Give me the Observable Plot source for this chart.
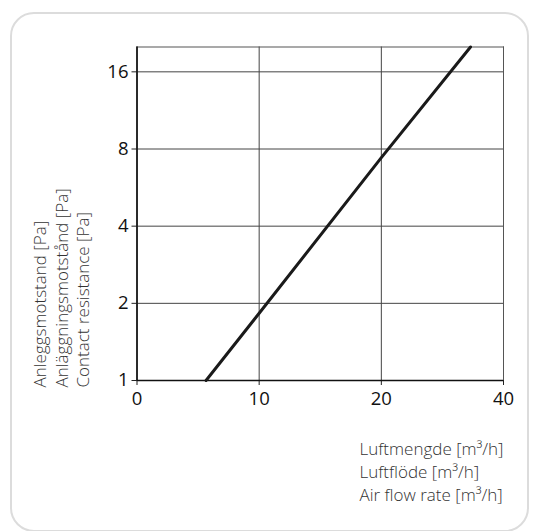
<!DOCTYPE html>
<html>
<head>
<meta charset="utf-8">
<script src="https://cdn.jsdelivr.net/npm/d3@7"></script>
<script src="https://cdn.jsdelivr.net/npm/@observablehq/plot@0.6"></script>
<style>
  html, body { margin: 0; padding: 0; background: #fff; }
  #wrap { position: relative; width: 534px; height: 531px; overflow: hidden; }
  #card { position: absolute; left: 10px; top: 12px; width: 519px; height: 520px;
          border: 2px solid #dcdcdc; border-radius: 24px; box-sizing: border-box; }
  #chart { position: absolute; left: 0; top: 0; }
</style>
</head>
<body>
<div id="wrap"><div id="card"></div><div id="chart"></div></div>
<script>
// Tick labels
const xTicks = [0, 10, 20, 40];
const yTicks = [1, 2, 4, 8, 16];
// Line: air flow [m³/h] vs contact resistance [Pa]
const flow = [5.65, 10, 20, 34.6];
const resistance = [1, 1.83, 7.4, 20];
// Titles
const yTitle = ["Anleggsmotstand [Pa]", "Anläggningsmotstånd [Pa]", "Contact resistance [Pa]"];
const xTitle = ["Luftmengde [m³/h]", "Luftflöde [m³/h]", "Air flow rate [m³/h]"];

const W = 534, H = 531;
const mL = 136.5, mR = 31, mT = 46.5, mB = 151;
const step = (W - mL - mR) / (xTicks.length - 1);
const data = flow.map((f, i) => ({flow: f, resistance: resistance[i]}));

const chart = Plot.plot({
  width: W,
  height: H,
  marginLeft: mL,
  marginRight: mR,
  marginTop: mT,
  marginBottom: mB,
  style: {fontFamily: "'Open Sans', sans-serif", background: "transparent", overflow: "visible"},
  x: {type: "linear", domain: xTicks, range: xTicks.map((_, i) => mL + i * step)},
  y: {type: "log", base: 2, domain: [1, 20]},
  marks: [
    Plot.gridX(xTicks, {stroke: "#444", strokeOpacity: 1, strokeWidth: 1}),
    Plot.gridY(yTicks, {stroke: "#444", strokeOpacity: 1, strokeWidth: 1}),
    Plot.frame({stroke: "#555", strokeWidth: 1}),
    Plot.axisX(xTicks, {tickSize: 5, text: null, label: null, stroke: "#222"}),
    Plot.axisY(yTicks, {tickSize: 5, text: null, label: null, stroke: "#222"}),
    Plot.text(xTicks, {x: d => d, text: d => String(d), frameAnchor: "bottom", dy: 19,
      lineAnchor: "middle", fontSize: 18.5, fill: "#111"}),
    Plot.text(yTicks, {y: d => d, text: d => String(d), frameAnchor: "left", dx: -8.5,
      textAnchor: "end", lineAnchor: "middle", fontSize: 18.5, fill: "#111"}),
    Plot.ruleX([0], {stroke: "#111", strokeWidth: 1.5}),
    Plot.ruleY([1], {stroke: "#111", strokeWidth: 1.5}),
    Plot.line(data, {x: "flow", y: "resistance", stroke: "#1a1a1a", strokeWidth: 3}),
    Plot.text([yTitle.join("\n")], {
      frameAnchor: "bottom-left", dx: 60.5 - mL, dy: 7, rotate: -90,
      textAnchor: "start", lineAnchor: "middle", lineHeight: 1.27,
      fontSize: 17, fontWeight: 300, fill: "#333"
    }),
    Plot.text([xTitle.join("\n")], {
      frameAnchor: "bottom-left", dx: 359 - mL, dy: 90,
      textAnchor: "start", lineAnchor: "middle", lineHeight: 1.35,
      fontSize: 17, fontWeight: 300, fill: "#333"
    })
  ]
});
document.getElementById("chart").appendChild(chart);
</script>
</body>
</html>
